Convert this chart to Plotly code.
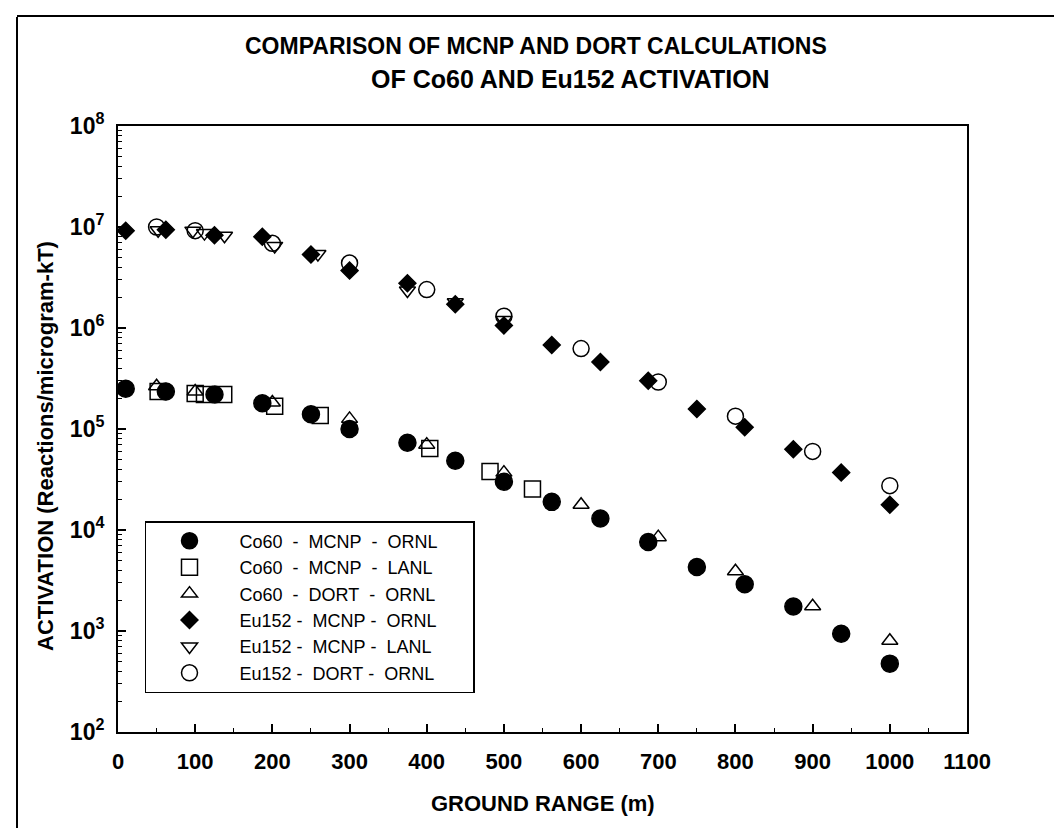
import plotly.graph_objects as go

# ---------------- data ----------------
co60_mcnp_ornl_x = [10, 62, 125, 187, 250, 300, 375, 437, 500, 562, 625, 687, 750, 812, 875, 937, 1000]
co60_mcnp_ornl_y = [2.5e5, 2.35e5, 2.2e5, 1.8e5, 1.4e5, 1.0e5, 7.3e4, 4.85e4, 3.0e4, 1.9e4, 1.3e4,
                    7.6e3, 4.3e3, 2.9e3, 1.75e3, 940, 475]

co60_mcnp_lanl_x = [52, 100, 112, 137, 203, 262, 404, 482, 537]
co60_mcnp_lanl_y = [2.35e5, 2.25e5, 2.2e5, 2.2e5, 1.68e5, 1.36e5, 6.4e4, 3.8e4, 2.55e4]

co60_dort_x = [50, 100, 200, 300, 400, 500, 600, 700, 800, 900, 1000]
co60_dort_y = [2.65e5, 2.35e5, 1.83e5, 1.26e5, 7.0e4, 3.7e4, 1.78e4, 8.5e3, 3.9e3, 1.76e3, 800]

eu152_mcnp_ornl_x = [10, 62, 125, 187, 250, 300, 375, 437, 500, 562, 625, 687, 750, 812, 875, 937, 1000]
eu152_mcnp_ornl_y = [9.2e6, 9.4e6, 8.3e6, 8.0e6, 5.35e6, 3.7e6, 2.77e6, 1.72e6, 1.06e6, 6.8e5, 4.6e5,
                     3.0e5, 1.58e5, 1.04e5, 6.3e4, 3.7e4, 1.78e4]

eu152_mcnp_lanl_x = [52, 97, 112, 138, 203, 259, 375, 437, 500]
eu152_mcnp_lanl_y = [9.3e6, 9.2e6, 8.7e6, 8.2e6, 6.5e6, 5.4e6, 2.35e6, 1.8e6, 1.2e6]

eu152_dort_x = [50, 100, 200, 300, 400, 500, 600, 700, 800, 900, 1000]
eu152_dort_y = [1.0e7, 9.2e6, 6.9e6, 4.4e6, 2.4e6, 1.31e6, 6.25e5, 2.92e5, 1.34e5, 6.0e4, 2.75e4]

NB = "\u00a0"
series_names = [
    "Co60" + NB * 2 + "-" + NB * 2 + "MCNP" + NB * 2 + "-" + NB * 2 + "ORNL",
    "Co60" + NB * 2 + "-" + NB * 2 + "MCNP" + NB * 2 + "-" + NB * 2 + "LANL",
    "Co60" + NB * 2 + "-" + NB * 2 + "DORT" + NB * 2 + "-" + NB * 2 + "ORNL",
    "Eu152" + NB + "-" + NB * 2 + "MCNP" + NB + "-" + NB * 2 + "ORNL",
    "Eu152" + NB + "-" + NB * 2 + "MCNP" + NB + "-" + NB * 2 + "LANL",
    "Eu152" + NB + "-" + NB * 2 + "DORT" + NB + "-" + NB * 2 + "ORNL",
]

x_ticks = list(range(0, 1101, 100))
y_decades = [2, 3, 4, 5, 6, 7, 8]

# ---------------- figure ----------------
FONT = "Liberation Sans, Arial, sans-serif"
fig = go.Figure()

series = [
    (co60_mcnp_ornl_x, co60_mcnp_ornl_y, "circle", 17),
    (co60_mcnp_lanl_x, co60_mcnp_lanl_y, "square-open", 16),
    (co60_dort_x, co60_dort_y, "triangle-up-open", 14),
    (eu152_mcnp_ornl_x, eu152_mcnp_ornl_y, "diamond", 13),
    (eu152_mcnp_lanl_x, eu152_mcnp_lanl_y, "triangle-down-open", 14),
    (eu152_dort_x, eu152_dort_y, "circle-open", 16),
]
for (xs, ys, sym, sz), name in zip(series, series_names):
    fig.add_trace(go.Scatter(
        x=xs, y=ys, mode="markers", name=NB * 6 + name + NB * 6,
        marker=dict(symbol=sym, size=sz, color="black",
                    line=dict(color="black", width=1.5)),
    ))

minor_y = [k * 10 ** d for d in range(2, 8) for k in range(2, 10)]

fig.update_layout(
    width=1062, height=828,
    margin=dict(l=110, r=103, t=118, b=104),
    paper_bgcolor="white", plot_bgcolor="white",
    font=dict(family=FONT, color="black"),
    showlegend=True,
    legend=dict(
        x=0.0318, y=0.348, xanchor="left", yanchor="top",
        bgcolor="white", bordercolor="black", borderwidth=1.5,
        font=dict(family=FONT, size=18, color="black"),
        tracegroupgap=0, indentation=23,
    ),
    xaxis=dict(
        range=[0, 1100], tickvals=x_ticks, ticktext=[str(v) for v in x_ticks],
        ticks="inside", ticklen=8, tickwidth=1.5, tickcolor="black",
        minor=dict(ticks="inside", ticklen=4, tickwidth=1.2, tickcolor="black", dtick=50),
        showline=True, linecolor="black", linewidth=2, mirror=True,
        showgrid=False, zeroline=False,
        tickfont=dict(family=FONT, size=22, color="black", weight="bold"),
        ticklabelstandoff=9,
    ),
    yaxis=dict(
        type="log", range=[2, 8],
        tickvals=[10 ** d for d in y_decades],
        ticktext=["10<sup>%d</sup>" % d for d in y_decades],
        ticks="inside", ticklen=8, tickwidth=1.5, tickcolor="black",
        minor=dict(ticks="inside", ticklen=4, tickwidth=1.2, tickcolor="black",
                   tickmode="array", tickvals=minor_y),
        showline=True, linecolor="black", linewidth=2, mirror=True,
        showgrid=False, zeroline=False,
        tickfont=dict(family=FONT, size=23, color="black", weight="bold"),
        ticklabelstandoff=7,
    ),
)

fig.add_annotation(text="COMPARISON OF MCNP AND DORT CALCULATIONS", xref="paper", yref="paper",
                   x=(528 - 110) / 849, y=(724 - 38) / 606, xanchor="center", yanchor="middle",
                   showarrow=False, font=dict(family=FONT, size=23, color="black", weight="bold"))
fig.add_annotation(text="OF Co60 AND Eu152 ACTIVATION", xref="paper", yref="paper",
                   x=(562 - 110) / 849, y=(724 - 71) / 606, xanchor="center", yanchor="middle",
                   showarrow=False, font=dict(family=FONT, size=25, color="black", weight="bold"))
fig.add_annotation(text="GROUND RANGE (m)", xref="paper", yref="paper",
                   x=0.5, y=(724 - 795) / 606, xanchor="center", yanchor="middle",
                   showarrow=False, font=dict(family=FONT, size=22, color="black", weight="bold"))
fig.add_annotation(text="ACTIVATION (Reactions/microgram-kT)", xref="paper", yref="paper",
                   x=(38 - 110) / 849, y=(724 - 438) / 606, xanchor="center", yanchor="middle",
                   textangle=-90, showarrow=False,
                   font=dict(family=FONT, size=22, color="black", weight="bold"))

# outer frame of the page (left and top edges)
fig.add_shape(type="line", xref="paper", yref="paper",
              x0=(9 - 110) / 849, x1=(9 - 110) / 849, y0=(724 - 9) / 606, y1=(724 - 828) / 606,
              line=dict(color="black", width=2))
fig.add_shape(type="line", xref="paper", yref="paper",
              x0=(9 - 110) / 849, x1=(1062 - 110) / 849, y0=(724 - 8) / 606, y1=(724 - 8) / 606,
              line=dict(color="black", width=2))

fig.write_html("out.html")
